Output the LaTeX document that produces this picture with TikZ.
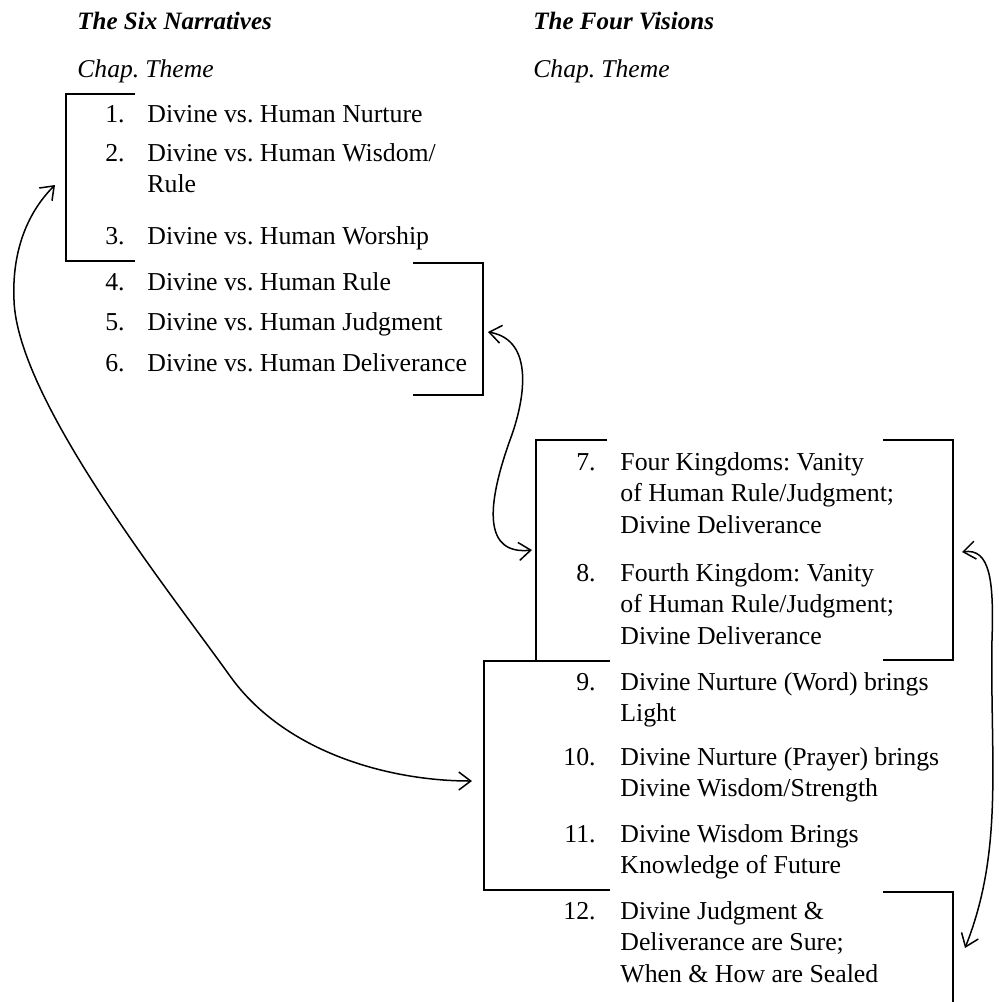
\documentclass[tikz,border=0pt]{standalone}
\usepackage{fontspec}
\setmainfont{Liberation Serif}
\usetikzlibrary{arrows.meta,positioning}
\newcommand{\stk}[1]{\begin{tabular}[t]{@{}l@{}}#1\end{tabular}}
\tikzset{
  hd/.style={anchor=base west, inner sep=0pt, font=\fontsize{12.5}{15.8}\selectfont\bfseries\itshape},
  sub/.style={anchor=base west, inner sep=0pt, font=\fontsize{12.8}{15.8}\selectfont\itshape},
  num/.style={anchor=base east, inner sep=0pt, font=\fontsize{12.9}{15.8}\selectfont},
  thm/.style={anchor=base west, inner sep=0pt, font=\fontsize{12.9}{15.8}\selectfont\frenchspacing},
  brk/.style={line width=1pt},
  lnk/.style={line width=0.75pt, {Straight Barb[length=6pt,width=9pt]}-{Straight Barb[length=6pt,width=9pt]}}
}

\begin{document}
\begin{tikzpicture}[x=0.5pt, y=-0.5pt]
\useasboundingbox (0,0) rectangle (998,1002);
% headings
\node[hd] (six) at (77,29) {The Six Narratives};
\node[sub] (chl) at (77,77) {Chap.};
\node[sub] (thl) at (145,77) {Theme};
\node[hd] (four) at (533,29) {The Four Visions};
\node[sub] (chr) at (533,77) {Chap.};
\node[sub] (thr) at (601,77) {Theme};

% the six narratives
\node[num] (c1) at (125,122) {1.};
\node[thm] (t1) at (147,122) {Divine vs. Human Nurture};
\node[num] (c2) at (125,161) {2.};
\node[thm] (t2) at (147,161) {\stk{Divine vs. Human Wisdom/\\Rule}};
\node[num] (c3) at (125,244) {3.};
\node[thm] (t3) at (147,244) {Divine vs. Human Worship};
\node[num] (c4) at (125,290) {4.};
\node[thm] (t4) at (147,290) {Divine vs. Human Rule};
\node[num] (c5) at (125,330) {5.};
\node[thm] (t5) at (147,330) {Divine vs. Human Judgment};
\node[num] (c6) at (125,371) {6.};
\node[thm] (t6) at (147,371) {Divine vs. Human Deliverance};

% the four visions
\node[num] (c7) at (596,470) {7.};
\node[thm] (t7) at (620,470) {\stk{Four Kingdoms: Vanity\\of Human Rule/Judgment;\\Divine Deliverance}};
\node[num] (c8) at (596,581) {8.};
\node[thm] (t8) at (620,581) {\stk{Fourth Kingdom: Vanity\\of Human Rule/Judgment;\\Divine Deliverance}};
\node[num] (c9) at (596,690) {9.};
\node[thm] (t9) at (620,690) {\stk{Divine Nurture (Word) brings\\Light}};
\node[num] (c10) at (596,765) {10.};
\node[thm] (t10) at (620,765) {\stk{Divine Nurture (Prayer) brings\\Divine Wisdom/Strength}};
\node[num] (c11) at (596,842) {11.};
\node[thm] (t11) at (620,842) {\stk{Divine Wisdom Brings\\Knowledge of Future}};
\node[num] (c12) at (596,919) {12.};
\node[thm] (t12) at (620,919) {\stk{Divine Judgment \&\\Deliverance are Sure;\\When \& How are Sealed}};

% brackets
\draw[brk] (135,94) -- (66,94) -- (66,261) -- (135,261);
\draw[brk] (413,263) -- (483,263) -- (483,395) -- (413,395);
\draw[brk] (607,440) -- (536,440) -- (536,661);
\draw[brk] (883,440) -- (953,440) -- (953,660) -- (883,660);
\draw[brk] (610,661) -- (484,661) -- (484,890) -- (610,890);
\draw[brk] (883,892) -- (953,892) -- (953,1002);

% arrow ends
\coordinate (g1) at (55,185);
\coordinate (g2) at (472,781);
\coordinate (g3) at (488,332);
\coordinate (g4) at (532,550);
\coordinate (g5) at (962,552);
\coordinate (g6) at (965,948);

\draw[lnk] (g1) .. controls (25,215) and (12,255) .. (14,300)
  .. controls (17,400) and (170,592) .. (230,676)
  .. controls (285,753) and (390,781) .. (g2);
\draw[lnk] (g3) .. controls (535,340) and (525,400) .. (510,440)
  .. controls (485,510) and (485,555) .. (g4);
\draw[lnk] (g5) .. controls (990,548) and (994,580) .. (992,640)
  .. controls (990,760) and (1004,850) .. (g6);
\end{tikzpicture}
\end{document}
